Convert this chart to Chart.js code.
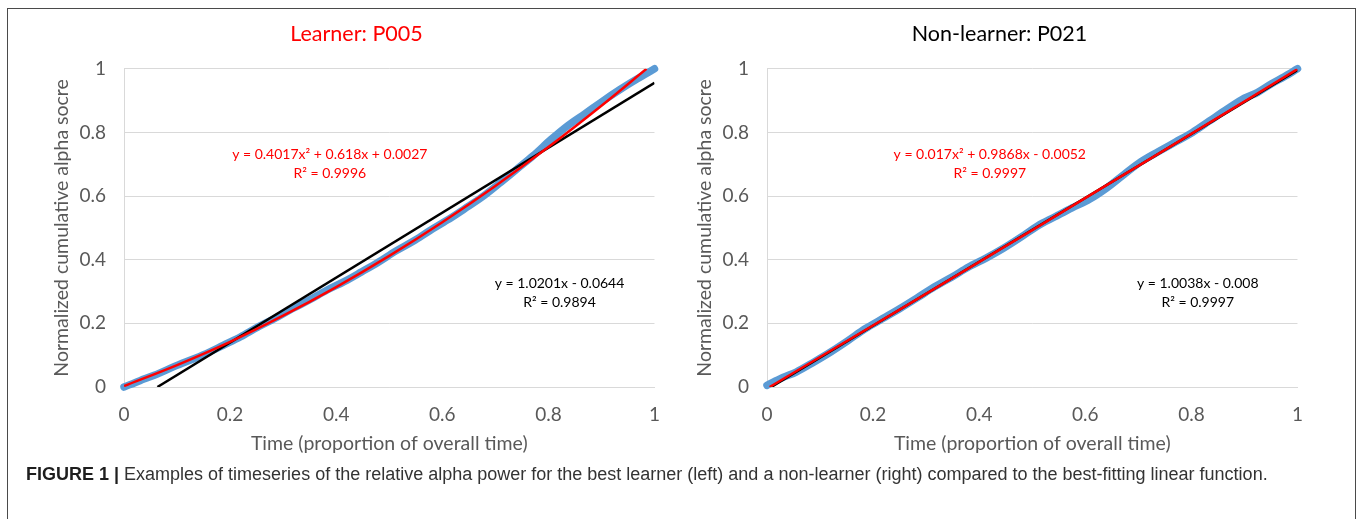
<!DOCTYPE html>
<html>
<head>
<meta charset="utf-8">
<script src="https://cdn.jsdelivr.net/npm/chart.js@4.4.1/dist/chart.umd.min.js"></script>
<style>
    body { margin: 0; width: 1358px; height: 519px; background: #fff; overflow: hidden; position: relative; }
    #frame { position: absolute; left: 7px; top: 8px; width: 1347px; height: 530px; border: 1.5px solid #4a4a4a; border-bottom: none; }
    canvas { position: absolute; top: 14px; }
    #learnerChart { left: 10px; }
    #nonLearnerChart { left: 653px; }
    #caption { position: absolute; left: 26px; top: 464px; font-family: 'Liberation Sans Narrow', 'Liberation Sans', Arial, sans-serif; font-size: 18px; color: #333; white-space: nowrap; transform-origin: left top; }
    #caption b { color: #1e1e1e; }
</style>
</head>
<body>
<div id="frame"></div>
<canvas id="learnerChart" width="666" height="453"></canvas>
<canvas id="nonLearnerChart" width="666" height="453"></canvas>
<div id="caption"><b>FIGURE 1 |</b> Examples of timeseries of the relative alpha power for the best learner (left) and a non-learner (right) compared to the best-fitting linear function.</div>

<script>
// Axis ticks (both panels)
const tickValues = [0, 0.2, 0.4, 0.6, 0.8, 1];

// Learner P005 - measured cumulative alpha score
const learnerTime = [0, 0.03, 0.057, 0.1, 0.155, 0.187, 0.22, 0.252, 0.285, 0.317, 0.35, 0.382, 0.415, 0.447, 0.48, 0.512, 0.545, 0.577, 0.61, 0.642, 0.675, 0.707, 0.74, 0.772, 0.805, 0.837, 0.87, 0.902, 0.935, 0.967, 1];
const learnerScore = [0, 0.02, 0.037, 0.068, 0.105, 0.131, 0.158, 0.188, 0.216, 0.246, 0.274, 0.304, 0.331, 0.361, 0.393, 0.427, 0.458, 0.492, 0.525, 0.56, 0.597, 0.639, 0.684, 0.728, 0.778, 0.822, 0.86, 0.898, 0.935, 0.968, 1];
// Learner P005 - quadratic and linear trendlines
const learnerQuadTime = [0, 0.1, 0.2, 0.3, 0.4, 0.5, 0.6, 0.7, 0.8, 0.9, 0.985];
const learnerQuadScore = [0.003, 0.069, 0.142, 0.224, 0.314, 0.412, 0.518, 0.632, 0.754, 0.884, 1];
const learnerLinTime = [0.063, 1];
const learnerLinScore = [0, 0.956];

// Non-learner P021 - measured cumulative alpha score
const nonLearnerTime = [0, 0.03, 0.055, 0.088, 0.12, 0.152, 0.185, 0.218, 0.25, 0.283, 0.315, 0.348, 0.38, 0.413, 0.445, 0.478, 0.51, 0.543, 0.575, 0.608, 0.64, 0.673, 0.705, 0.738, 0.77, 0.802, 0.834, 0.867, 0.9, 0.925, 0.951, 0.975, 1];
const nonLearnerScore = [0.005, 0.03, 0.047, 0.078, 0.11, 0.145, 0.183, 0.215, 0.246, 0.28, 0.314, 0.345, 0.377, 0.405, 0.435, 0.47, 0.506, 0.535, 0.563, 0.59, 0.625, 0.668, 0.708, 0.74, 0.77, 0.8, 0.836, 0.873, 0.908, 0.926, 0.953, 0.975, 1];
// Non-learner P021 - quadratic and linear trendlines
const nonLearnerQuadTime = [0.005, 0.25, 0.5, 0.75, 1];
const nonLearnerQuadScore = [0, 0.243, 0.493, 0.745, 0.999];
const nonLearnerLinTime = [0.008, 1];
const nonLearnerLinScore = [0, 0.996];

function toPoints(xs, ys) {
    return xs.map((x, i) => ({ x: x, y: ys[i] }));
}

// Draws the trendline equations inside the plot
const equationPlugin = {
    id: 'equations',
    afterDatasetsDraw(chart, args, opts) {
        const { ctx, scales } = chart;
        ctx.save();
        ctx.font = '14px Lato';
        ctx.textAlign = 'center';
        ctx.textBaseline = 'middle';
        opts.labels.forEach(label => {
            ctx.fillStyle = label.color;
            const px = scales.x.getPixelForValue(label.x);
            const py = scales.y.getPixelForValue(label.y);
            label.lines.forEach((line, i) => ctx.fillText(line, px, py + i * 19));
        });
        ctx.restore();
    }
};

function makeChart(canvasId, title, titleColor, series, labels) {
    const ctx = document.getElementById(canvasId).getContext('2d');
    return new Chart(ctx, {
        type: 'scatter',
        data: {
            datasets: [
                {
                    label: 'Quadratic fit',
                    data: toPoints(series.quadX, series.quadY),
                    showLine: true,
                    borderColor: '#ff0000',
                    borderWidth: 2.5,
                    pointRadius: 0,
                    cubicInterpolationMode: 'monotone',
                    order: 0
                },
                {
                    label: 'Linear fit',
                    data: toPoints(series.linX, series.linY),
                    showLine: true,
                    borderColor: '#000000',
                    borderWidth: 2.5,
                    pointRadius: 0,
                    order: 1
                },
                {
                    label: 'Cumulative alpha',
                    data: toPoints(series.x, series.y),
                    showLine: true,
                    borderColor: '#5b9bd5',
                    borderWidth: 7.5,
                    borderCapStyle: 'round',
                    borderJoinStyle: 'round',
                    pointRadius: 0,
                    cubicInterpolationMode: 'monotone',
                    clip: false,
                    order: 2
                }
            ]
        },
        options: {
            responsive: false,
            animation: false,
            layout: { padding: { left: 40, right: 13, top: 0, bottom: 0 } },
            plugins: {
                legend: { display: false },
                tooltip: { enabled: false },
                title: {
                    display: true,
                    text: title,
                    color: titleColor,
                    font: { family: 'Lato', size: 21.5, weight: 'normal' },
                    padding: { top: 7, bottom: 22 }
                },
                equations: { labels: labels }
            },
            scales: {
                x: {
                    type: 'linear',
                    min: 0,
                    max: 1,
                    afterBuildTicks: axis => { axis.ticks = tickValues.map(v => ({ value: v })); },
                    afterFit: axis => { axis.height = 80; },
                    grid: { display: false, drawTicks: false },
                    border: { display: true, color: '#d9d9d9', width: 1 },
                    ticks: { color: '#595959', font: { family: 'Lato', size: 19 }, padding: 16, callback: v => String(v) },
                    title: {
                        display: true,
                        text: 'Time (proportion of overall time)',
                        color: '#595959',
                        font: { family: 'Lato', size: 19.5 },
                        padding: { top: 0, bottom: 12 }
                    }
                },
                y: {
                    type: 'linear',
                    min: 0,
                    max: 1,
                    afterBuildTicks: axis => { axis.ticks = tickValues.map(v => ({ value: v })); },
                    afterFit: axis => { axis.width = 74; },
                    grid: { color: '#d9d9d9', drawTicks: false },
                    border: { display: true, color: '#d9d9d9', width: 1 },
                    ticks: { color: '#595959', font: { family: 'Lato', size: 19 }, padding: 18, callback: v => String(v) },
                    title: {
                        display: true,
                        text: 'Normalized cumulative alpha socre',
                        color: '#595959',
                        font: { family: 'Lato', size: 19.5 },
                        padding: { top: 0, bottom: 0 }
                    }
                }
            }
        },
        plugins: [equationPlugin]
    });
}

makeChart('learnerChart', 'Learner: P005', '#ff0000', {
    x: learnerTime, y: learnerScore,
    quadX: learnerQuadTime, quadY: learnerQuadScore,
    linX: learnerLinTime, linY: learnerLinScore
}, [
    { x: 0.388, y: 0.73, color: '#ff0000', lines: ['y = 0.4017x² + 0.618x + 0.0027', 'R² = 0.9996'] },
    { x: 0.821, y: 0.324, color: '#000000', lines: ['y = 1.0201x - 0.0644', 'R² = 0.9894'] }
]);

makeChart('nonLearnerChart', 'Non-learner: P021', '#000000', {
    x: nonLearnerTime, y: nonLearnerScore,
    quadX: nonLearnerQuadTime, quadY: nonLearnerQuadScore,
    linX: nonLearnerLinTime, linY: nonLearnerLinScore
}, [
    { x: 0.42, y: 0.73, color: '#ff0000', lines: ['y = 0.017x² + 0.9868x - 0.0052', 'R² = 0.9997'] },
    { x: 0.812, y: 0.324, color: '#000000', lines: ['y = 1.0038x - 0.008', 'R² = 0.9997'] }
]);

// Fit the caption to the width it has in the figure
const caption = document.getElementById('caption');
caption.style.transform = 'scaleX(' + (1242 / caption.scrollWidth) + ')';
</script>
</body>
</html>
